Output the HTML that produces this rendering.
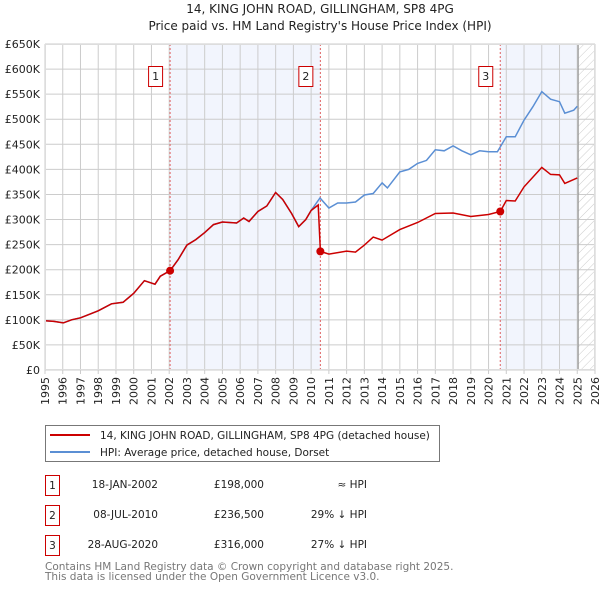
<!DOCTYPE html>
<html><head><meta charset="utf-8"><style>
body{margin:0;background:#fff;font-family:"DejaVu Sans","Liberation Sans",sans-serif;}
svg{display:block}
</style></head><body>
<svg id="c" width="600" height="590" viewBox="0 0 600 590" xmlns="http://www.w3.org/2000/svg" font-family="DejaVu Sans, Liberation Sans, sans-serif">
<defs>
<pattern id="hatch" width="6" height="6" patternUnits="userSpaceOnUse" patternTransform="rotate(45)">
<line x1="0" y1="0" x2="0" y2="6" stroke="#ccc" stroke-width="1"/></pattern>
</defs>
<text x="320" y="13" text-anchor="middle" font-size="12" fill="#222">14, KING JOHN ROAD, GILLINGHAM, SP8 4PG</text>
<text x="320" y="30" text-anchor="middle" font-size="12" fill="#222">Price paid vs. HM Land Registry's House Price Index (HPI)</text>
<g id="plot"></g>
<g>
<rect x="45.5" y="425.5" width="394" height="36" fill="#fff" stroke="#777"/>
<line x1="50" y1="435" x2="90" y2="435" stroke="#cc0000" stroke-width="2"/>
<text x="100" y="439" font-size="10.5" fill="#222">14, KING JOHN ROAD, GILLINGHAM, SP8 4PG (detached house)</text>
<line x1="50" y1="452" x2="90" y2="452" stroke="#5b8fd4" stroke-width="2"/>
<text x="100" y="456" font-size="10.5" fill="#222">HPI: Average price, detached house, Dorset</text>
</g>
<g font-size="10.5" fill="#222">
<g>
<rect x="45.5" y="475.5" width="14" height="20" fill="#fff" stroke="#c00"/><text x="52.5" y="489" text-anchor="middle">1</text>
<text x="158" y="488" text-anchor="end">18-JAN-2002</text><text x="264" y="488" text-anchor="end">£198,000</text><text x="367" y="488" text-anchor="end">≈ HPI</text></g>
<g>
<rect x="45.5" y="505.5" width="14" height="20" fill="#fff" stroke="#c00"/><text x="52.5" y="519" text-anchor="middle">2</text>
<text x="158" y="518" text-anchor="end">08-JUL-2010</text><text x="264" y="518" text-anchor="end">£236,500</text><text x="367" y="518" text-anchor="end">29% ↓ HPI</text></g>
<g>
<rect x="45.5" y="535.5" width="14" height="20" fill="#fff" stroke="#c00"/><text x="52.5" y="549" text-anchor="middle">3</text>
<text x="158" y="548" text-anchor="end">28-AUG-2020</text><text x="264" y="548" text-anchor="end">£316,000</text><text x="367" y="548" text-anchor="end">27% ↓ HPI</text></g>
</g>
<text x="45" y="570" font-size="10.5" fill="#777">Contains HM Land Registry data © Crown copyright and database right 2025.</text>
<text x="45" y="580" font-size="10.5" fill="#777">This data is licensed under the Open Government Licence v3.0.</text>
</svg>
<script>
const hpiYears=[1995,1995.5,1996.03,1996.5,1997,1997.5,1998,1998.75,1999.4,2000,2000.6,2001.2,2001.5,2002.05,2002.5,2003,2003.5,2004,2004.5,2005,2005.8,2006.2,2006.5,2007,2007.5,2008,2008.4,2008.9,2009.3,2009.7,2010.0,2010.5,2011,2011.5,2012,2012.5,2013,2013.5,2014,2014.3,2015,2015.5,2016,2016.5,2017,2017.5,2018,2018.5,2019,2019.5,2020,2020.5,2021,2021.5,2022,2022.5,2023,2023.5,2024,2024.3,2024.8,2025.0];
const hpiValues=[98000,97000,94000,100000,104000,111000,118000,132000,135000,153000,178000,171000,187000,198000,220000,249000,260000,274000,290000,295000,293000,303000,296000,316000,327000,354000,340000,312000,286000,300000,318000,343000,323000,333000,333000,335000,349000,352000,373000,363000,395000,400000,412000,418000,439000,437000,447000,437000,429000,437000,435000,435000,465000,465000,498000,525000,555000,540000,535000,512000,518000,526000];
const ppYears=[1995,1995.5,1996.03,1996.5,1997,1997.5,1998,1998.75,1999.4,2000,2000.6,2001.2,2001.5,2002.05,2002.5,2003,2003.5,2004,2004.5,2005,2005.8,2006.2,2006.5,2007,2007.5,2008,2008.4,2008.9,2009.3,2009.7,2010.0,2010.4,2010.52,2011,2012,2012.5,2013,2013.5,2014,2015,2016,2017,2018,2019,2020,2020.66,2021,2021.5,2022,2023,2023.5,2024,2024.3,2025.0];
const ppValues=[98000,97000,94000,100000,104000,111000,118000,132000,135000,153000,178000,171000,187000,198000,220000,249000,260000,274000,290000,295000,293000,303000,296000,316000,327000,354000,340000,312000,286000,300000,318000,329000,236500,231000,237000,235000,249000,265000,259000,280000,294000,312000,313000,306000,310000,316000,338000,337000,365000,404000,390000,389000,372000,383000];
const saleYears=[2002.05,2010.52,2020.66];
const salePrices=[198000,236500,316000];
const saleLabels=["1","2","3"];
const yTicks=[0,50000,100000,150000,200000,250000,300000,350000,400000,450000,500000,550000,600000,650000];
const yTickLabels=["£0","£50K","£100K","£150K","£200K","£250K","£300K","£350K","£400K","£450K","£500K","£550K","£600K","£650K"];
const xTicks=[1995,1996,1997,1998,1999,2000,2001,2002,2003,2004,2005,2006,2007,2008,2009,2010,2011,2012,2013,2014,2015,2016,2017,2018,2019,2020,2021,2022,2023,2024,2025,2026];

const X0=45,X1=595,Y0=370,Y1=44;
const xs=y=>X0+(y-1995)/(2026-1995)*(X1-X0);
const ys=v=>Y0-v/650000*(Y0-Y1);
const NS="http://www.w3.org/2000/svg";
const g=document.getElementById('plot');
function mk(t,a){const e=document.createElementNS(NS,t);for(const k in a)e.setAttribute(k,a[k]);g.appendChild(e);return e;}

const sh1=mk('rect',{x:xs(saleYears[0]),y:Y1,width:xs(saleYears[1])-xs(saleYears[0]),height:Y0-Y1,fill:'#f2f5fd'});


const sh2=mk('rect',{x:xs(saleYears[2]),y:Y1,width:xs(2025.05)-xs(saleYears[2]),height:Y0-Y1,fill:'#f2f5fd'});


const ht=mk('rect',{x:xs(2025.05),y:Y1,width:X1-xs(2025.05),height:Y0-Y1,fill:'url(#hatch)'});



xTicks.forEach((t,i)=>{
  const l=mk('line',{x1:xs(t),x2:xs(t),y1:Y1,y2:Y0+4,stroke:'#ccc','stroke-width':1});
  
  
  const x=xs(t)+4, y=377;
  const tx=mk('text',{x:x,y:y,'text-anchor':'end','font-size':11,fill:'#222',transform:'rotate(-90 '+x+' '+y+')'});
  
  
  tx.textContent=t;
});
yTicks.forEach((t,i)=>{
  const l=mk('line',{x1:X0,x2:X1,y1:ys(t),y2:ys(t),stroke:'#ccc','stroke-width':1});
  
  
  const tx=mk('text',{x:40,y:ys(t)+4,'text-anchor':'end','font-size':11,fill:'#222'});
  
  
  tx.textContent=yTickLabels[i];
});
const vl=mk('line',{x1:xs(2025.05),x2:xs(2025.05),y1:Y1,y2:Y0,stroke:'#999','stroke-width':1.2});



saleYears.forEach((s,i)=>{
  const l=mk('line',{x1:xs(s),x2:xs(s),y1:Y1,y2:Y0,stroke:'#e06060','stroke-width':1,'stroke-dasharray':'2,2'});
  
  
});

const hp=mk('polyline',{points:hpiYears.map((y,i)=>xs(y).toFixed(1)+','+ys(hpiValues[i]).toFixed(1)).join(' '),fill:'none',stroke:'#5b8fd4','stroke-width':1.5});


const pp=mk('polyline',{points:ppYears.map((y,i)=>xs(y).toFixed(1)+','+ys(ppValues[i]).toFixed(1)).join(' '),fill:'none',stroke:'#cc0000','stroke-width':1.5});



saleYears.forEach((s,i)=>{
  const c=mk('circle',{cx:xs(s),cy:ys(salePrices[i]),r:4,fill:'#cc0000'});
  
  
  const bx=xs(s)-15;
  const r=mk('rect',{x:bx-6.5,y:66.5,width:14,height:20,fill:'#fff',stroke:'#c00'});
  
  
  const t=mk('text',{x:bx+0.5,y:80,'text-anchor':'middle','font-size':11,fill:'#222'});
  
  
  t.textContent=saleLabels[i];
});
const bd=mk('rect',{x:X0+0.5,y:Y1+0.5,width:X1-X0-1,height:Y0-Y1-1,fill:'none',stroke:'#ddd'});


</script>
</body></html>
